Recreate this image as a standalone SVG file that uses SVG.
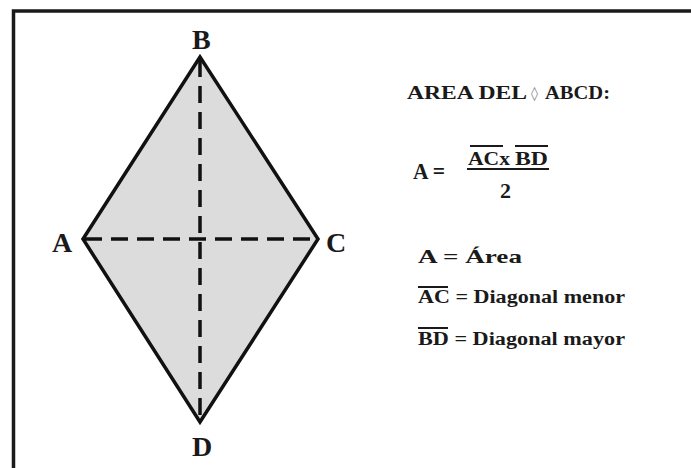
<svg xmlns="http://www.w3.org/2000/svg" width="691" height="468" viewBox="0 0 691 468">
<style>
.t{font-family:"Liberation Serif","Times New Roman",serif;font-weight:bold;fill:#1a1a1a}
.lbl{font-size:28px}
.dash{stroke:#111;stroke-width:3.5;stroke-dasharray:17 9;fill:none}
.ov{stroke:#1a1a1a;stroke-width:2;fill:none}
</style>
<rect width="691" height="468" fill="#fff"/>
<path d="M13.5 468 V11 H691" fill="none" stroke="#1a1a1a" stroke-width="3.5"/>
<g id="rhombus">
<polygon points="83,239 200,57 318,239 200,422" fill="#dcdcdc" stroke="#111" stroke-width="3.5" stroke-linejoin="miter"/>
</g>
<g id="connectors">
<line class="dash" x1="85" y1="239" x2="316" y2="239"/>
<line class="dash" x1="200" y1="60" x2="200" y2="420"/>
</g>
<g id="labels">
<text class="t lbl" x="52" y="252">A</text>
<text class="t lbl" x="192" y="49">B</text>
<text class="t lbl" x="326" y="252">C</text>
<text class="t lbl" x="192" y="456">D</text>
</g>
<g id="title">
<text class="t" x="407" y="99" font-size="18" textLength="120" lengthAdjust="spacingAndGlyphs">AREA DEL</text>
<text x="531" y="98" font-size="14" fill="#8a8a8a" font-family="DejaVu Sans, sans-serif">◊</text>
<text class="t" x="545" y="99" font-size="18" textLength="65" lengthAdjust="spacingAndGlyphs">ABCD:</text>
</g>
<g id="formula">
<text class="t" x="413" y="179" font-size="24" textLength="32" lengthAdjust="spacingAndGlyphs">A =</text>
<text class="t" x="468" y="165" font-size="19" textLength="42" lengthAdjust="spacingAndGlyphs">ACx</text>
<text class="t" x="515" y="165" font-size="19" textLength="33" lengthAdjust="spacingAndGlyphs">BD</text>
<line class="ov" x1="470" y1="146" x2="503" y2="146"/>
<line class="ov" x1="515" y1="146" x2="548" y2="146"/>
<line class="ov" x1="467" y1="169" x2="549" y2="169"/>
<text class="t" x="500" y="198" font-size="22">2</text>
</g>
<g id="legend">
<text class="t" x="418" y="263" font-size="19" textLength="104" lengthAdjust="spacingAndGlyphs">A = Área</text>
<line class="ov" x1="418" y1="287" x2="448" y2="287"/>
<text class="t" x="418" y="303" font-size="18" textLength="207" lengthAdjust="spacingAndGlyphs">AC = Diagonal menor</text>
<line class="ov" x1="418" y1="328" x2="448" y2="328"/>
<text class="t" x="418" y="345" font-size="18" textLength="207" lengthAdjust="spacingAndGlyphs">BD = Diagonal mayor</text>
</g>
</svg>
